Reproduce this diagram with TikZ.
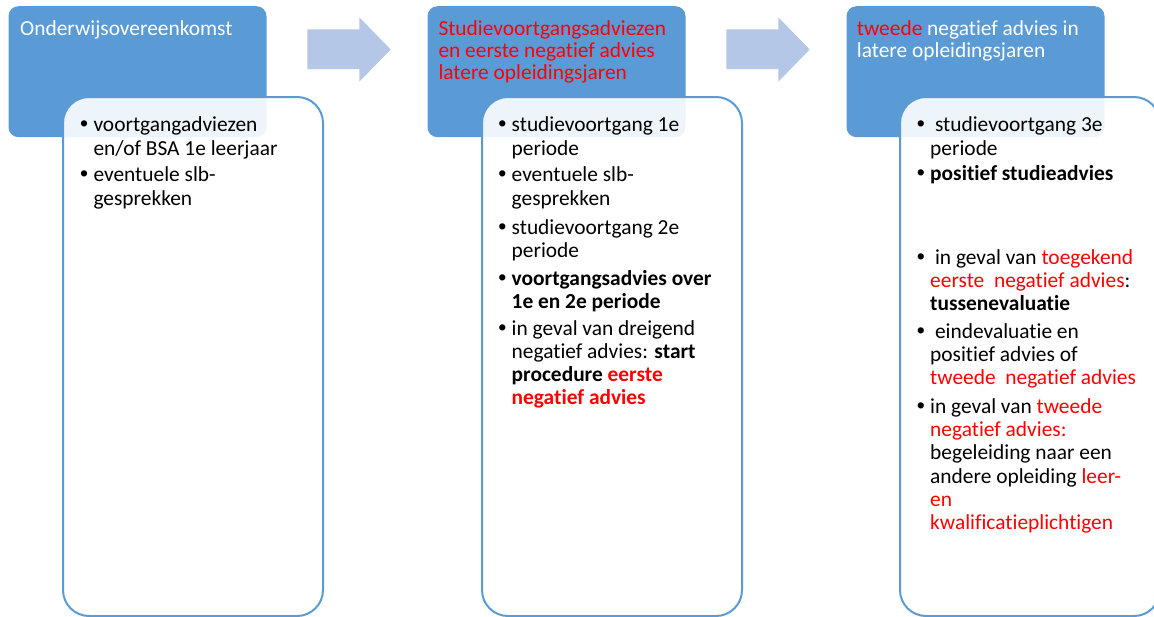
\documentclass[tikz,border=0pt]{standalone}
\usepackage{fontspec}
\setmainfont{Carlito}[Ligatures={NoCommon}]
\newfontfamily\bulfont{Liberation Sans}
\definecolor{boxblue}{HTML}{5B9BD5}
\definecolor{arrowblue}{HTML}{B4C7E7}
\definecolor{txtred}{HTML}{FF0000}
\newcommand{\rd}[1]{\textcolor{txtred}{#1}}
\newcommand{\bul}{\leavevmode\llap{\makebox[11.5pt][l]{\hspace{-1.8pt}{\bulfont\mdseries\fontsize{23}{23}\selectfont •}}}}
\newcommand{\blk}[1]{\parbox[t]{250pt}{\raggedright #1}}
\tikzset{
  header/.style={fill=boxblue, draw=none, rounded corners=10pt, minimum width=258pt, minimum height=131pt, anchor=north west, inner sep=0pt},
  panel/.style={draw=boxblue, line width=2pt, fill=white, fill opacity=0.9, rounded corners=26pt, minimum width=260pt, minimum height=519pt, anchor=north west, inner sep=0pt},
  htext/.style={anchor=base west, inner sep=0pt, text=white, font=\fontsize{21.4}{22.4}\selectfont},
  itm/.style={anchor=base west, inner sep=0pt, text=black, font=\fontsize{21.4}{23.3}\selectfont},
  flow/.style={fill=arrowblue, draw=none}
}
\begin{document}
\begin{tikzpicture}[x=1pt, y=-1pt]
\clip (0,0) rectangle (1154,616);
\fill[white] (0,0) rectangle (1154,616);

% block arrows
\fill[flow] (307.3,29.3) -- (359.3,29.3) -- (359.3,17.3) -- (390.7,49.5) -- (359.3,81.7) -- (359.3,69) -- (307.3,69) -- cycle;
\fill[flow] (726.3,29.3) -- (778.3,29.3) -- (778.3,17.3) -- (809.7,49.5) -- (778.3,81.7) -- (778.3,69) -- (726.3,69) -- cycle;

% header boxes
\node[header] (h1) at (8.3,6) {};
\node[header] (h2) at (427.3,6) {};
\node[header] (h3) at (846.3,6) {};

% panels
\node[panel] (p1) at (62,96) {};
\node[panel] (p2) at (481,96) {};
\node[panel] (p3) at (899,96) {};

% header texts
\node[htext] (ht1) at (20,35) {\blk{Onderwijsovereenkomst}};
\node[htext] (ht2) at (438.3,35) {\blk{\leavevmode\color{txtred}Studievoortgangsadviezen\\en eerste negatief advies\\latere opleidingsjaren}};
\node[htext] (ht3) at (856.7,35) {\blk{\rd{tweede} negatief advies in\\latere opleidingsjaren}};

% panel 1
\node[itm] (a1) at (93.3,131.7) {\blk{\bul voortgangadviezen\\en/of BSA 1e leerjaar}};
\node[itm] (a2) at (93.3,181.7) {\blk{\bul eventuele slb-\\gesprekken}};

% panel 2
\node[itm] (b1) at (511.5,131.7) {\blk{\bul studievoortgang 1e\\periode}};
\node[itm] (b2) at (511.5,181.7) {\blk{\bul eventuele slb-\\gesprekken}};
\node[itm] (b3) at (511.5,234) {\blk{\bul studievoortgang 2e\\periode}};
\node[itm] (b4) at (511.5,285) {\blk{\bul{\bfseries voortgangsadvies over}\\{\bfseries 1e en 2e periode}}};
\node[itm] (b5) at (511.5,335) {\blk{\bul in geval van dreigend\\negatief advies: \textbf{start}\\{\bfseries procedure \rd{eerste}}\\\leavevmode{\bfseries\color{txtred}negatief advies}}};

% panel 3
\node[itm] (c1) at (930,131.7) {\blk{\bul\ studievoortgang 3e\\periode}};
\node[itm] (c2) at (930,180) {\blk{\bul{\bfseries positief studieadvies}}};
\node[itm] (c3) at (930,264) {\blk{\bul\ in geval van \rd{toegekend}\\\rd{eerste\ \ negatief advies}:\\{\bfseries tussenevaluatie}}};
\node[itm] (c4) at (930,338.3) {\blk{\bul\ eindevaluatie en\\positief advies of\\\rd{tweede\ \ negatief advies}}};
\node[itm] (c5) at (930,413.3) {\blk{\bul in geval van \rd{tweede}\\\rd{negatief advies:}\\begeleiding naar een\\andere opleiding \rd{leer-}\\\rd{en}\\\rd{kwalificatieplichtigen}}};
\end{tikzpicture}
\end{document}
